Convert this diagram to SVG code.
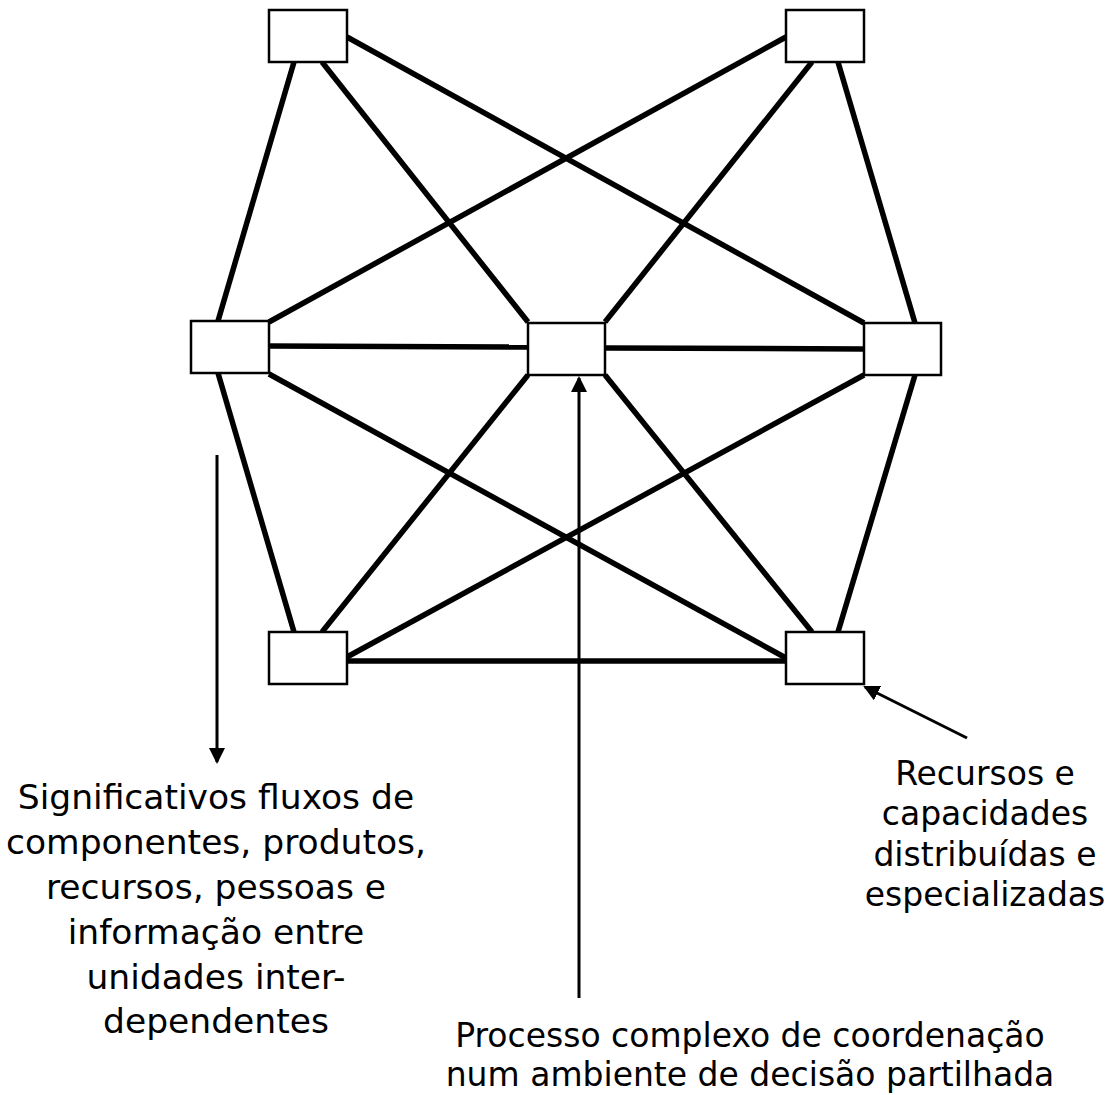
<svg xmlns="http://www.w3.org/2000/svg" width="1118" height="1095" viewBox="0 0 1118 1095">
<style>
.node rect{fill:#fff;stroke:#000;stroke-width:2.5}
.edge{stroke:#000;stroke-width:5.5;stroke-linecap:butt}
.pointer{stroke:#000;stroke-width:3;fill:none}
.lbl{font-family:"DejaVu Sans",sans-serif;fill:#000;text-anchor:middle}
.l1{font-size:34.5px}
.l2{font-size:33px}
</style>
<defs>
<marker id="ah" viewBox="0 0 16 16" refX="14" refY="8" markerWidth="16" markerHeight="16" markerUnits="userSpaceOnUse" orient="auto">
<path d="M0,0 L16,8 L0,16 z" fill="#000"/>
</marker>
</defs>
<rect width="1118" height="1095" fill="#fff"/>
<g id="connectors">
<line class="edge" x1="294" y1="62" x2="218" y2="321"/>
<line class="edge" x1="322" y1="62" x2="528" y2="322"/>
<line class="edge" x1="347" y1="37" x2="864" y2="323"/>
<line class="edge" x1="786" y1="37" x2="269" y2="322"/>
<line class="edge" x1="812" y1="62" x2="605" y2="322"/>
<line class="edge" x1="838" y1="62" x2="915" y2="323"/>
<line class="edge" x1="269" y1="346" x2="528" y2="347"/>
<line class="edge" x1="605" y1="348" x2="864" y2="349"/>
<line class="edge" x1="218" y1="373" x2="294" y2="632"/>
<line class="edge" x1="269" y1="374" x2="786" y2="658"/>
<line class="edge" x1="528" y1="375" x2="322" y2="632"/>
<line class="edge" x1="605" y1="375" x2="812" y2="632"/>
<line class="edge" x1="864" y1="375" x2="347" y2="657"/>
<line class="edge" x1="915" y1="375" x2="838" y2="632"/>
<line class="edge" x1="347" y1="661" x2="786" y2="661"/>
<line class="pointer" x1="579" y1="998" x2="579" y2="378" marker-end="url(#ah)"/>
<line class="pointer" x1="217" y1="455" x2="217" y2="762" marker-end="url(#ah)"/>
<line class="pointer" x1="967" y1="738" x2="865" y2="687" marker-end="url(#ah)"/>
</g>
<g id="node-tl" class="node"><rect x="269" y="10" width="78" height="52"/></g>
<g id="node-tr" class="node"><rect x="786" y="10" width="78" height="52"/></g>
<g id="node-ml" class="node"><rect x="191" y="321" width="78" height="52"/></g>
<g id="node-mc" class="node"><rect x="528" y="323" width="77" height="52"/></g>
<g id="node-mr" class="node"><rect x="864" y="323" width="77" height="52"/></g>
<g id="node-bl" class="node"><rect x="269" y="632" width="78" height="52"/></g>
<g id="node-br" class="node"><rect x="786" y="632" width="78" height="52"/></g>
<g id="label-flows" class="lbl l1">
<text x="216" y="809">Significativos fluxos de</text>
<text x="216" y="854">componentes, produtos,</text>
<text x="216" y="899">recursos, pessoas e</text>
<text x="216" y="944">informação entre</text>
<text x="216" y="989">unidades inter-</text>
<text x="216" y="1033">dependentes</text>
</g>
<g id="label-process" class="lbl l2">
<text x="750" y="1047">Processo complexo de coordenação</text>
<text x="750" y="1086">num ambiente de decisão partilhada</text>
</g>
<g id="label-resources" class="lbl l2">
<text x="985" y="785">Recursos e</text>
<text x="985" y="825">capacidades</text>
<text x="985" y="866">distribuídas e</text>
<text x="985" y="906">especializadas</text>
</g>
</svg>
